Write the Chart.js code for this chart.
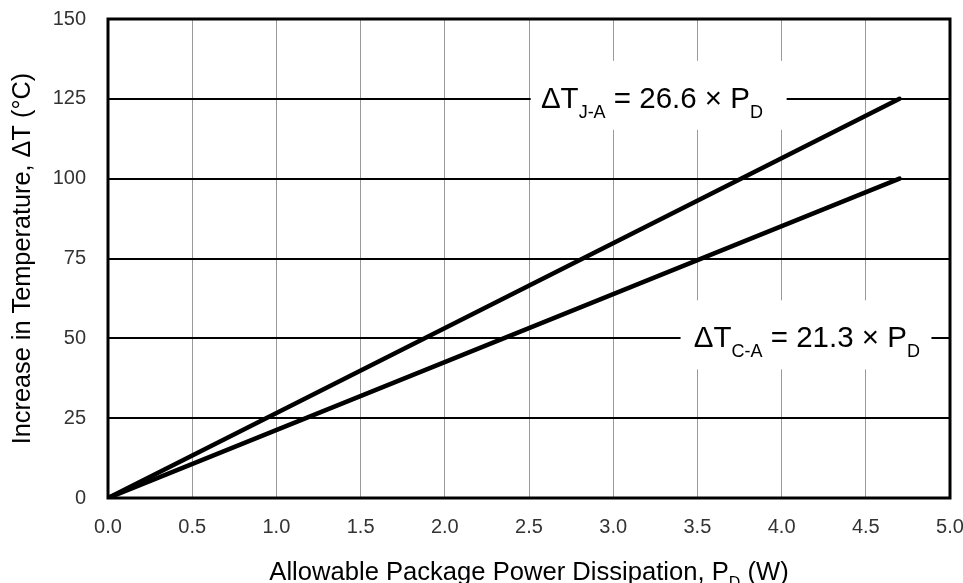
<!DOCTYPE html>
<html>
<head>
<meta charset="utf-8">
<script src="https://cdn.jsdelivr.net/npm/chart.js@4/dist/chart.umd.min.js"></script>
<style>
  body { margin: 0; background: #fff; }
  #wrap { width: 963px; height: 583px; position: relative; }
</style>
</head>
<body>
<div id="wrap"><canvas id="grafico"></canvas></div>
<script>
// dados
const potencia = [0, 4.7];          // P_D (W)
const deltaJA = [0, 125];           // ΔT J-A (°C)
const deltaCA = [0, 100];           // ΔT C-A (°C)
const xTicks = [0, 0.5, 1, 1.5, 2, 2.5, 3, 3.5, 4, 4.5, 5];
const yTicks = [0, 25, 50, 75, 100, 125, 150];

// rótulos das retas: [texto, subscrito], posição em unidades dos eixos
const rotulos = [
    { partes: [['ΔT', false], ['J-A', true], [' = 26.6 × P', false], ['D', true]], x: 3.23, y: 125, x0: 2.51, x1: 4.03 },
    { partes: [['ΔT', false], ['C-A', true], [' = 21.3 × P', false], ['D', true]], x: 4.15, y: 50, x0: 3.40, x1: 4.89 }
];

const FONTE = '"Liberation Sans", Arial, sans-serif';

function textoRico(ctx, partes, x, y, tam, alinhar) {
    const medir = p => {
        ctx.font = (p[1] ? Math.round(tam * 0.62) : tam) + 'px ' + FONTE;
        return ctx.measureText(p[0]).width;
    };
    const total = partes.reduce((s, p) => s + medir(p), 0);
    let cx = alinhar === 'center' ? x - total / 2 : x;
    ctx.textBaseline = 'alphabetic';
    ctx.textAlign = 'left';
    partes.forEach(p => {
        const w = medir(p);
        ctx.fillText(p[0], cx, p[1] ? y + tam * 0.33 : y);
        cx += w;
    });
}

// sem folga automática: a área do gráfico fica só com o padding do layout
function semFolga(s) {
    s.paddingLeft = 0;
    s.paddingRight = 0;
    s.paddingTop = 0;
    s.paddingBottom = 0;
}

const extras = {
    id: 'extras',
    afterDatasetsDraw(chart) {
        const { ctx, chartArea: a, scales: { x, y } } = chart;
        ctx.save();
        // caixas brancas com as equações
        rotulos.forEach(r => {
            const px = x.getPixelForValue(r.x);
            const py = y.getPixelForValue(r.y);
            const l = x.getPixelForValue(r.x0);
            const rr = x.getPixelForValue(r.x1);
            ctx.fillStyle = '#fff';
            ctx.fillRect(l, py - 38, rr - l, 69);
            ctx.fillStyle = '#000';
            textoRico(ctx, r.partes, px, py + 9, 29.5, 'center');
        });
        // moldura
        ctx.strokeStyle = '#000';
        ctx.lineWidth = 3;
        ctx.strokeRect(a.left, a.top, a.right - a.left, a.bottom - a.top);
        // títulos dos eixos
        ctx.fillStyle = '#000';
        textoRico(ctx, [['Allowable Package Power Dissipation, P', false], ['D', true], [' (W)', false]],
            (a.left + a.right) / 2, 580, 25.6, 'center');
        ctx.translate(30, (a.top + a.bottom) / 2);
        ctx.rotate(-Math.PI / 2);
        textoRico(ctx, [['Increase in Temperature, ΔT (°C)', false]], 0, 0, 25.3, 'center');
        ctx.restore();
    }
};

new Chart(document.getElementById('grafico'), {
    type: 'line',
    data: {
        datasets: [
            {
                label: 'ΔT J-A',
                data: potencia.map((p, i) => ({ x: p, y: deltaJA[i] })),
                borderColor: '#000',
                borderWidth: 4.5,
                borderCapStyle: 'round',
                pointRadius: 0
            },
            {
                label: 'ΔT C-A',
                data: potencia.map((p, i) => ({ x: p, y: deltaCA[i] })),
                borderColor: '#000',
                borderWidth: 4.5,
                borderCapStyle: 'round',
                pointRadius: 0
            }
        ]
    },
    options: {
        responsive: true,
        maintainAspectRatio: false,
        animation: false,
        layout: { padding: { left: 0, right: 13, top: 19, bottom: 0 } },
        plugins: { legend: { display: false }, tooltip: { enabled: false } },
        scales: {
            x: {
                type: 'linear',
                min: 0,
                max: 5,
                afterFit: s => { s.height = 85; semFolga(s); },
                afterBuildTicks: s => { s.ticks = xTicks.map(v => ({ value: v })); },
                ticks: {
                    padding: 17,
                    color: '#333',
                    font: { family: FONTE, size: 20 },
                    maxRotation: 0,
                    callback: v => v.toFixed(1)
                },
                grid: { color: '#9a9a9a', lineWidth: 1, drawTicks: false },
                border: { display: false }
            },
            y: {
                min: 0,
                max: 150,
                afterFit: s => { s.width = 108; semFolga(s); },
                afterBuildTicks: s => { s.ticks = yTicks.map(v => ({ value: v })); },
                ticks: {
                    padding: 22,
                    color: '#333',
                    font: { family: FONTE, size: 20 }
                },
                grid: { color: '#000', lineWidth: 2, drawTicks: false },
                border: { display: false }
            }
        }
    },
    plugins: [extras]
});
</script>
</body>
</html>
